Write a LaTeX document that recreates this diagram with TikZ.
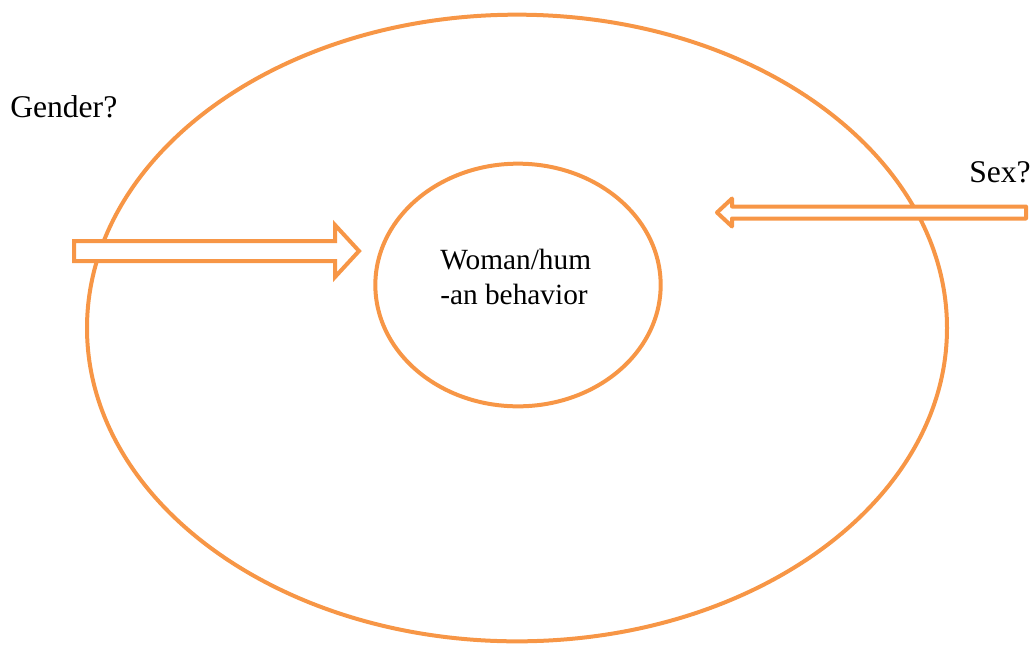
\documentclass[tikz,border=0pt]{standalone}
\usepackage{fontspec}
\setmainfont{Liberation Serif}
\usetikzlibrary{shapes.geometric}
\definecolor{accent}{HTML}{F79646}
\tikzstyle{ring} = [ellipse, draw=accent, line width=3pt, inner sep=0pt]
\tikzstyle{hollow} = [draw=accent, fill=white, line width=3pt]
\tikzstyle{word} = [font=\fontsize{22}{26}\selectfont, inner sep=0pt, anchor=west]
\tikzstyle{tag} = [word, font=\fontsize{23.7}{28}\selectfont]
\begin{document}
\begin{tikzpicture}[x=0.75pt, y=-0.75pt]
\useasboundingbox (0,0) rectangle (1036,644);
% rings
\node [ring, minimum width=645pt, minimum height=470pt] (outer) at (517,328) {};
\node [ring, minimum width=214pt, minimum height=182pt] (inner) at (518,285) {};
\node [word, align=left] (core) at (440,277) {Woman/hum\\-an behavior};
% labels
\node [tag] (gender) at (10,107) {Gender?};
\node [tag] (sex) at (969,172) {Sex?};
% arrows
\draw [hollow, line join=miter] (74,241) -- (335,241) -- (335,225) -- (359,251)
  -- (335,277) -- (335,261) -- (74,261) -- cycle;
\draw [hollow, line join=round] (1026,206.5) -- (732,206.5) -- (732,198.5) -- (717,212.5)
  -- (732,226.5) -- (732,218.5) -- (1026,218.5) -- cycle;
\end{tikzpicture}
\end{document}
